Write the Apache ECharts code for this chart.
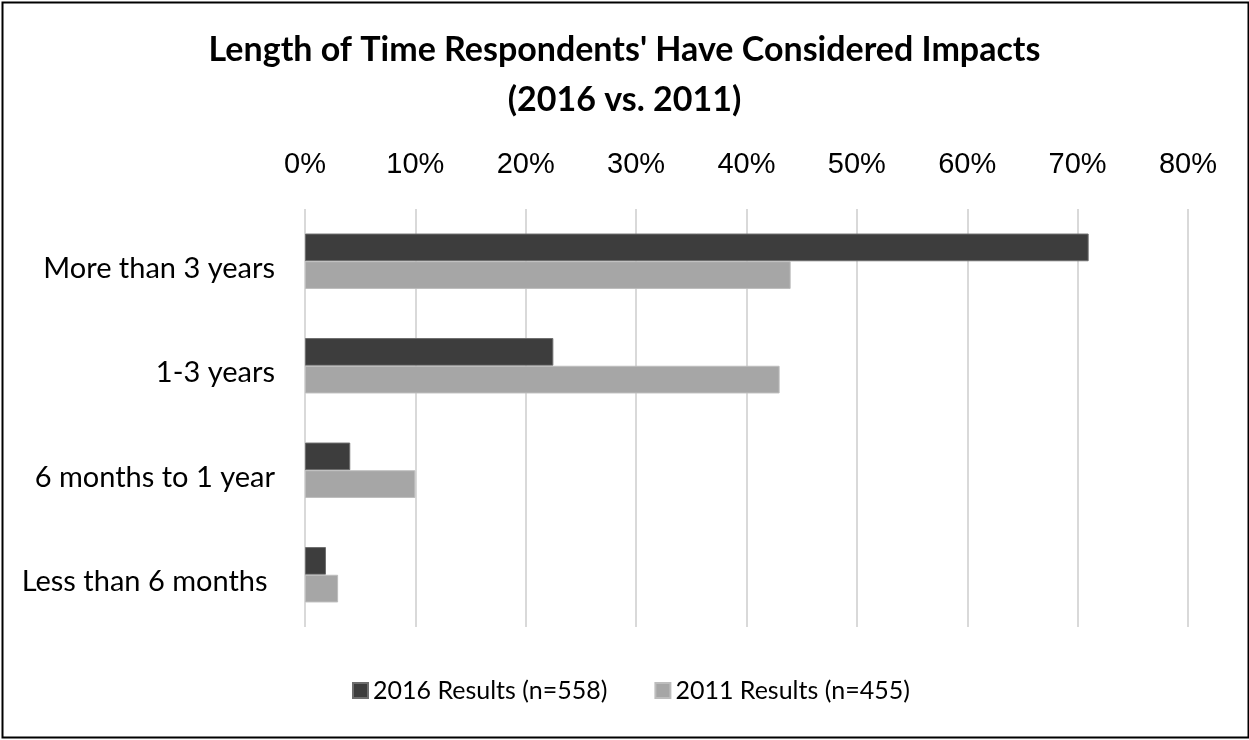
<!DOCTYPE html>
<html>
<head>
<meta charset="utf-8">
<script src="https://cdn.jsdelivr.net/npm/echarts@6/dist/echarts.min.js"></script>
<style>
html,body{margin:0;padding:0;background:#fff;}
#chart{width:1249px;height:740px;}
</style>
</head>
<body>
<div id="chart"></div>
<script>
const categories = ['More than 3 years', '1-3 years', '6 months to 1 year', 'Less than 6 months '];
const seriesNames = ['2016 Results (n=558)', '2011 Results (n=455)'];
const results2016 = [71.0, 22.5, 4.1, 1.9];
const results2011 = [44.0, 43.0, 10.0, 3.0];
const xTicks = { min: 0, max: 80, interval: 10 };

const chart = echarts.init(document.getElementById('chart'), null, { renderer: 'canvas' });
const option = {
  backgroundColor: '#ffffff',
  animation: false,
  title: {
    text: "Length of Time Respondents' Have Considered Impacts\n(2016 vs. 2011)",
    left: 'center',
    top: 20,
    textStyle: {
      fontFamily: 'Lato',
      fontWeight: 'bold',
      fontSize: 34,
      lineHeight: 50,
      color: '#000'
    }
  },
  legend: {
    data: seriesNames,
    bottom: 32,
    left: 347,
    itemWidth: 15,
    itemHeight: 15,
    itemGap: 47,
    icon: 'rect',
    textStyle: { fontFamily: 'Lato', fontSize: 25, color: '#000' }
  },
  grid: { left: 305, right: 61, top: 209, bottom: 113, containLabel: false },
  xAxis: {
    type: 'value',
    position: 'top',
    min: xTicks.min,
    max: xTicks.max,
    interval: xTicks.interval,
    axisLine: { show: false },
    axisTick: { show: false },
    axisLabel: {
      formatter: '{value}%',
      fontFamily: 'Liberation Sans',
      fontSize: 29,
      color: '#000',
      margin: 30
    },
    splitLine: { show: true, lineStyle: { color: '#d9d9d9', width: 2 } }
  },
  yAxis: {
    type: 'category',
    data: categories,
    inverse: true,
    axisLine: { show: false },
    axisTick: { show: false },
    axisLabel: {
      margin: 30,
      formatter: function (v) { return '{c|' + v + '}'; },
      rich: {
        c: {
          fontFamily: 'Lato',
          fontSize: 29,
          color: '#000',
          padding: [14, 0, 0, 0]
        }
      }
    }
  },
  series: [
    {
      name: seriesNames[0],
      type: 'bar',
      data: results2016,
      barGap: '0%',
      barCategoryGap: '47%',
      itemStyle: { color: '#3d3d3d', borderColor: '#6e6e6e', borderWidth: 1 }
    },
    {
      name: seriesNames[1],
      type: 'bar',
      data: results2011,
      barGap: '0%',
      barCategoryGap: '47%',
      itemStyle: { color: '#a6a6a6', borderColor: '#bdbdbd', borderWidth: 1 }
    }
  ],
  graphic: [
    {
      type: 'rect',
      left: 0, top: 0,
      shape: { x: 1, y: 1, width: 1246, height: 735 },
      style: { fill: 'none', stroke: '#000', lineWidth: 2 },
      silent: true
    }
  ]
};
chart.setOption(option);
</script>
</body>
</html>
